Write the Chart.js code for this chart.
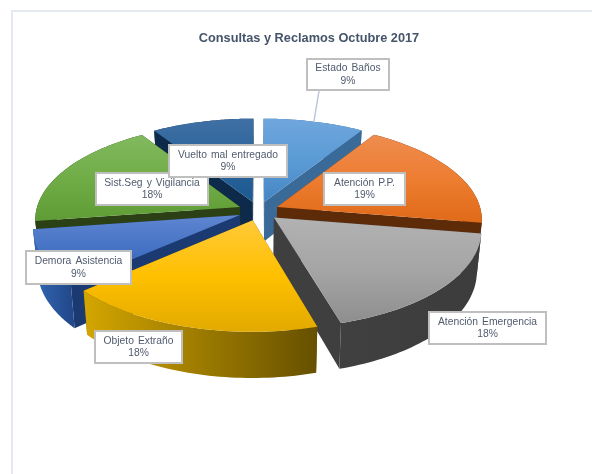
<!DOCTYPE html>
<html>
<head>
<meta charset="utf-8">
<script src="https://cdn.jsdelivr.net/npm/chart.js@4"></script>
<style>
html, body { margin: 0; padding: 0; background: #fff; overflow: hidden; width: 592px; height: 474px; }
#frame { position: absolute; left: 11px; top: 10px; width: 592px; height: 470px; border: 2px solid #e4e8ef; background: #fff; }
canvas { display: block; }
</style>
</head>
<body>
<div id="frame"><canvas id="chart_pie" width="592" height="470"></canvas></div>
<script>
const categories = ['Estado Baños', 'Atención P.P.', 'Atención Emergencia', 'Objeto Extraño', 'Demora Asistencia', 'Sist.Seg y Vigilancia', 'Vuelto mal entregado'];
const shares = [9, 18.6, 17.9, 18, 9.2, 18.2, 9.1];

// top face gradient (top, middle, bottom), then cut face, then rim left/right
const topColors = [
    ['#6fa6dd', '#5b9bd5', '#4585c4'],
    ['#ee8c50', '#ed7d31', '#e06a18'],
    ['#b2b2b2', '#a5a5a5', '#8e8e8e'],
    ['#ffc93a', '#ffc000', '#e2aa00'],
    ['#5f86d0', '#4472c4', '#3060ae'],
    ['#82b95f', '#70ad47', '#5f9c36'],
    ['#3f70a5', '#2a6399', '#1c5a92']
];
const cutColors = ['#3a6a98', '#5e2b08', '#3f3f3f', '#6b5400', '#1c3a72', '#2b4014', '#0e2a4a'];
const rimColors = [
    ['#3a6a98', '#3a6a98'],
    ['#5e2b08', '#5e2b08'],
    ['#404040', '#3c3c3c'],
    ['#d4a600', '#665000'],
    ['#3468b8', '#22498a'],
    ['#2b4014', '#2b4014'],
    ['#0e2a4a', '#0e2a4a']
];

// label boxes in page pixels: left, top, right, bottom
const labelBoxes = [
    [306, 58, 388, 89],
    [323, 172, 404, 204],
    [428, 311, 545, 343],
    [94, 330, 181, 362],
    [25, 250, 130, 283],
    [95, 172, 207, 204],
    [168, 144, 286, 176]
];

const frameX = 12, frameY = 11;
const view = {cx: 257.5 - frameX, cy: 210 - frameY, rx: 204, ry: 95.5, depth: 40, persp: 0.122, explode: 0.1, taper: 0.02};

function project(x, y, z) {
    const w = 1 / (1 - view.persp * y);
    return [view.cx + view.rx * x * w * (1 - view.taper * z), view.cy + view.ry * y * w + view.depth * z * w];
}

function fillPoly(ctx, pts, fill) {
    ctx.beginPath();
    pts.forEach((p, i) => i ? ctx.lineTo(p[0], p[1]) : ctx.moveTo(p[0], p[1]));
    ctx.closePath();
    ctx.fillStyle = fill;
    ctx.fill();
}

const pie3d = {
    id: 'pie3d',
    afterDatasetsDraw(chart) {
        const ctx = chart.ctx;
        const arcs = chart.getDatasetMeta(0).data;
        const order = arcs.map((a, i) => i).sort((a, b) =>
            Math.sin((arcs[a].startAngle + arcs[a].endAngle) / 2) - Math.sin((arcs[b].startAngle + arcs[b].endAngle) / 2));

        order.forEach(i => {
            const a0 = arcs[i].startAngle, a1 = arcs[i].endAngle, mid = (a0 + a1) / 2;
            const ox = view.explode * Math.cos(mid), oy = view.explode * Math.sin(mid);
            const rimAngles = [];
            for (let k = 0; k <= 48; k++) rimAngles.push(a0 + (a1 - a0) * k / 48);
            const rim = z => rimAngles.map(t => project(ox + Math.cos(t), oy + Math.sin(t), z));
            const apex = z => project(ox, oy, z);
            const top = rim(0), bottom = rim(1);

            // the two cut faces
            fillPoly(ctx, [apex(0), top[0], bottom[0], apex(1)], cutColors[i]);
            fillPoly(ctx, [apex(0), top[48], bottom[48], apex(1)], cutColors[i]);

            // outer wall
            const xs = top.map(p => p[0]);
            const wall = ctx.createLinearGradient(Math.min(...xs), 0, Math.max(...xs), 0);
            wall.addColorStop(0, rimColors[i][0]);
            wall.addColorStop(1, rimColors[i][1]);
            fillPoly(ctx, top.concat(bottom.slice().reverse()), wall);

            // top face
            const ys = top.concat([apex(0)]).map(p => p[1]);
            const face = ctx.createLinearGradient(0, Math.min(...ys), 0, Math.max(...ys));
            face.addColorStop(0, topColors[i][0]);
            face.addColorStop(0.5, topColors[i][1]);
            face.addColorStop(1, topColors[i][2]);
            fillPoly(ctx, [apex(0)].concat(top), face);
        });

        // leader line of the first label
        ctx.beginPath();
        ctx.moveTo(318 - frameX, 90 - frameY);
        ctx.lineTo(313 - frameX, 120 - frameY);
        ctx.strokeStyle = '#bcc8d8';
        ctx.lineWidth = 1.5;
        ctx.stroke();

        // label boxes, topmost of the pie
        ctx.textAlign = 'center';
        ctx.textBaseline = 'middle';
        ctx.font = '10.3px "Liberation Sans", Arial, sans-serif';
        ctx.wordSpacing = '1.2px';
        categories.forEach((name, i) => {
            const b = labelBoxes[i];
            const l = b[0] - frameX, t = b[1] - frameY, w = b[2] - b[0], h = b[3] - b[1];
            ctx.fillStyle = '#fff';
            ctx.fillRect(l, t, w, h);
            ctx.strokeStyle = '#bfbfbf';
            ctx.lineWidth = 2;
            ctx.strokeRect(l, t, w, h);
            ctx.fillStyle = '#505b6e';
            ctx.fillText(name, l + w / 2, t + h / 2 - 6);
            ctx.fillText(Math.round(shares[i]) + '%', l + w / 2, t + h / 2 + 6.5);
        });
        ctx.wordSpacing = '0px';
    }
};

new Chart(document.getElementById('chart_pie'), {
    type: 'pie',
    data: {
        labels: categories,
        datasets: [{data: shares, backgroundColor: 'rgba(0,0,0,0)', borderWidth: 0}]
    },
    options: {
        responsive: false,
        animation: false,
        plugins: {
            legend: {display: false},
            tooltip: {enabled: false},
            title: {
                display: true,
                text: 'Consultas y Reclamos Octubre 2017',
                color: '#44546a',
                font: {family: '"Liberation Sans", Arial, sans-serif', size: 12.75, weight: 'bold'},
                padding: {top: 19, bottom: 10}
            }
        }
    },
    plugins: [pie3d]
});
</script>
</body>
</html>
